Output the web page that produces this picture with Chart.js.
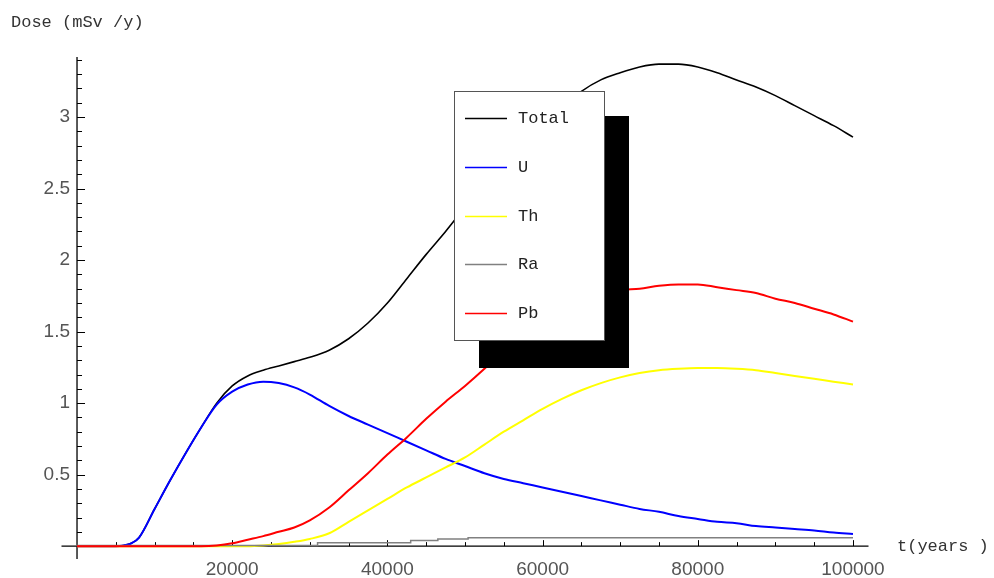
<!DOCTYPE html>
<html>
<head>
<meta charset="utf-8">
<script src="https://cdn.jsdelivr.net/npm/chart.js@4/dist/chart.umd.min.js"></script>
<style>
  body { margin: 0; background: #fff; }
</style>
</head>
<body>
<canvas id="dose" width="994" height="578"></canvas>
<script>
// time grid (years) and dose per nuclide (mSv/y)
var tYears = [0, 5000, 6000, 7000, 8000, 10000, 12000, 14000, 16000, 18000, 20000, 22000, 24000, 26000, 28000, 30000,
  32500, 35000, 37500, 40000, 42500, 45000, 47500, 50000, 52500, 55000, 57500, 60000, 62500, 65000, 67500, 70000,
  72500, 75000, 77500, 80000, 82500, 85000, 87500, 90000, 92500, 95000, 97500, 100000];

var totalDose = [0, 0, 0.005, 0.02, 0.06, 0.26, 0.46, 0.65, 0.83, 1.00, 1.12, 1.19, 1.23, 1.26, 1.29, 1.32,
  1.37, 1.45, 1.56, 1.70, 1.87, 2.04, 2.20, 2.37, 2.53, 2.68, 2.82, 2.95, 3.07, 3.18, 3.26, 3.31,
  3.35, 3.37, 3.37, 3.35, 3.31, 3.26, 3.21, 3.15, 3.08, 3.01, 2.94, 2.86];

var uDose = [0, 0, 0.005, 0.02, 0.06, 0.26, 0.46, 0.65, 0.83, 0.99, 1.08, 1.13, 1.15, 1.14, 1.11, 1.06,
  0.98, 0.91, 0.85, 0.79, 0.73, 0.67, 0.61, 0.56, 0.51, 0.47, 0.44, 0.41, 0.38, 0.35, 0.32, 0.29,
  0.26, 0.24, 0.21, 0.19, 0.17, 0.16, 0.14, 0.13, 0.12, 0.11, 0.095, 0.085];

var thDose = [0, 0, 0, 0, 0, 0, 0, 0, 0, 0, 0, 0, 0.005, 0.015, 0.03, 0.05,
  0.09, 0.17, 0.25, 0.33, 0.41, 0.48, 0.55, 0.62, 0.71, 0.80, 0.88, 0.96, 1.03, 1.09, 1.14, 1.18,
  1.21, 1.23, 1.24, 1.245, 1.245, 1.24, 1.23, 1.21, 1.19, 1.17, 1.15, 1.13];

var pbDose = [0, 0, 0, 0, 0, 0, 0, 0, 0, 0.005, 0.02, 0.045, 0.07, 0.10, 0.13, 0.18,
  0.27, 0.39, 0.51, 0.64, 0.76, 0.89, 1.01, 1.12, 1.24, 1.37, 1.49, 1.58, 1.66, 1.72, 1.76, 1.79,
  1.80, 1.82, 1.83, 1.83, 1.81, 1.79, 1.77, 1.73, 1.70, 1.66, 1.62, 1.57];

// Ra is a step curve, own breakpoints
var raYears = [0, 31000, 43000, 46500, 50400, 57900, 100000];
var raDose = [0, 0.005, 0.023, 0.04, 0.05, 0.058, 0.058];

var seriesNames = ['Total', 'U', 'Th', 'Ra', 'Pb'];
var seriesColors = ['#000000', '#0000ff', '#ffff00', '#808080', '#ff0000'];

var xMajorTicks = [20000, 40000, 60000, 80000, 100000];
var yMajorTicks = [0.5, 1, 1.5, 2, 2.5, 3];

function pts(xs, ys) {
  return xs.map(function (t, i) { return { x: t, y: ys[i] }; });
}

var axesPlugin = {
  id: 'mathAxes',
  beforeDatasetsDraw: function (chart) {
    var ctx = chart.ctx;
    var sx = chart.scales.x, sy = chart.scales.y;
    var x0 = sx.getPixelForValue(0), y0 = sy.getPixelForValue(0);
    ctx.save();
    ctx.strokeStyle = '#000';
    ctx.lineWidth = 1.3;
    ctx.beginPath();
    ctx.moveTo(chart.chartArea.left, y0);
    ctx.lineTo(chart.chartArea.right, y0);
    ctx.moveTo(x0, chart.chartArea.top);
    ctx.lineTo(x0, chart.chartArea.bottom);
    ctx.stroke();

    // y ticks: minor every 0.1
    ctx.lineWidth = 1;
    ctx.beginPath();
    for (var k = 1; k <= 34; k++) {
      var yp = Math.round(sy.getPixelForValue(k / 10)) + 0.5;
      var len = (k % 5 === 0) ? 8 : 5;
      ctx.moveTo(x0, yp);
      ctx.lineTo(x0 + len, yp);
    }
    // x ticks: minor every 5000
    for (var j = 1; j <= 20; j++) {
      var xp = Math.round(sx.getPixelForValue(j * 5000)) + 0.5;
      var l2 = (j % 4 === 0) ? 6 : 4;
      ctx.moveTo(xp, y0);
      ctx.lineTo(xp, y0 - l2);
    }
    ctx.stroke();

    ctx.fillStyle = '#555';
    ctx.font = '19px "Liberation Sans", Arial, sans-serif';
    ctx.textAlign = 'right';
    ctx.textBaseline = 'middle';
    yMajorTicks.forEach(function (v) {
      ctx.fillText(String(v), 70, sy.getPixelForValue(v));
    });
    ctx.textAlign = 'center';
    xMajorTicks.forEach(function (v) {
      ctx.fillText(String(v), sx.getPixelForValue(v), 570);
    });

    ctx.fillStyle = '#333';
    ctx.font = '17px "Liberation Mono", monospace';
    ctx.textAlign = 'left';
    ctx.fillText('Dose (mSv /y)', 11, 22);
    ctx.fillText('t(years )', 897, y0);
    ctx.restore();
  },
  afterDatasetsDraw: function (chart) {
    var ctx = chart.ctx;
    ctx.save();
    // shadow then box
    ctx.fillStyle = '#000';
    ctx.fillRect(479, 116, 150, 252);
    ctx.fillStyle = '#fff';
    ctx.fillRect(454, 91, 151, 250);
    ctx.strokeStyle = '#555';
    ctx.lineWidth = 1;
    ctx.strokeRect(454.5, 91.5, 150, 249);
    ctx.font = '17px "Liberation Mono", monospace';
    ctx.textAlign = 'left';
    ctx.textBaseline = 'middle';
    var rows = [118, 167, 216, 264, 313];
    seriesNames.forEach(function (name, i) {
      ctx.strokeStyle = seriesColors[i];
      ctx.lineWidth = 1.5;
      ctx.beginPath();
      ctx.moveTo(465, rows[i] + 0.5);
      ctx.lineTo(507, rows[i] + 0.5);
      ctx.stroke();
      ctx.fillStyle = '#222';
      ctx.fillText(name, 518, rows[i]);
    });
    ctx.restore();
  }
};

var doseCanvas = document.getElementById('dose');
var doseChart = new Chart(doseCanvas, {
  type: 'line',
  data: {
    datasets: [
      { label: 'Total', data: pts(tYears, totalDose), borderColor: seriesColors[0], borderWidth: 1.6, order: 5 },
      { label: 'U', data: pts(tYears, uDose), borderColor: seriesColors[1], borderWidth: 2, order: 4 },
      { label: 'Th', data: pts(tYears, thDose), borderColor: seriesColors[2], borderWidth: 2, order: 3 },
      { label: 'Ra', data: pts(raYears, raDose), borderColor: seriesColors[3], borderWidth: 1.5, stepped: 'after', order: 2 },
      { label: 'Pb', data: pts(tYears, pbDose), borderColor: seriesColors[4], borderWidth: 2, order: 1 }
    ]
  },
  options: {
    responsive: false,
    animation: false,
    events: [],
    layout: { padding: { left: 61.5, right: 125.5, top: 57, bottom: 19 } },
    elements: {
      point: { radius: 0 },
      line: { cubicInterpolationMode: 'monotone', fill: false }
    },
    scales: {
      x: { type: 'linear', min: -2000, max: 102000, display: false },
      y: { type: 'linear', min: -0.09, max: 3.42, display: false }
    },
    plugins: {
      legend: { display: false },
      tooltip: { enabled: false }
    }
  },
  plugins: [axesPlugin]
});
</script>
</body>
</html>
